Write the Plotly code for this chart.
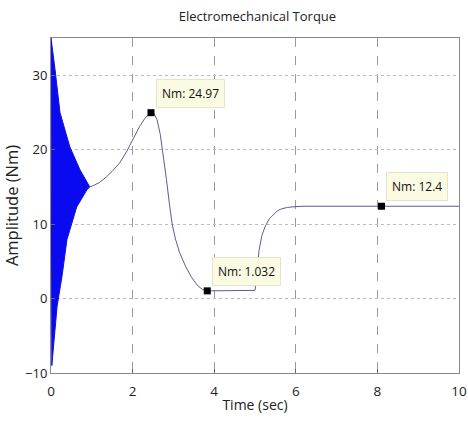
import plotly.graph_objects as go

# Oscillation envelope (start-up transient)
osc_t = [0.0, 0.05, 0.10, 0.22, 0.46, 0.71, 0.95]
osc_upper = [35.0, 33.0, 30.7, 25.0, 20.4, 17.3, 15.0]
osc_lower_t = [0.0, 0.02, 0.10, 0.15, 0.27, 0.39, 0.63, 0.88, 0.95]
osc_lower = [35.0, -9.0, -4.2, -1.0, 3.0, 7.9, 12.3, 14.6, 15.0]

# Smooth torque response after transient
curve_t = [0.95, 1.05, 1.19, 1.35, 1.5, 1.68, 1.85, 2.0, 2.17, 2.3, 2.4, 2.45,
           2.52, 2.6, 2.68, 2.75, 2.83, 2.9, 2.97, 3.05, 3.15, 3.3, 3.45, 3.6, 3.72, 3.83,
           4.5, 5.0, 5.03, 5.06, 5.1, 5.17, 5.25, 5.35, 5.45, 5.55, 5.65, 5.8, 6.0, 6.2,
           8.1, 10.0]
curve_v = [15.0, 15.2, 15.6, 16.3, 17.1, 18.2, 19.7, 21.3, 23.1, 24.2, 24.8, 24.97,
           24.9, 24.0, 22.0, 19.5, 16.0, 12.8, 10.0, 8.0, 6.2, 4.3, 2.8, 1.7, 1.2, 1.032,
           1.03, 1.1, 2.5, 4.5, 6.5, 8.5, 9.7, 10.7, 11.3, 11.8, 12.05, 12.25, 12.35, 12.4,
           12.4, 12.4]

# Data tips
tip_t = [2.45, 3.83, 8.1]
tip_v = [24.97, 1.032, 12.4]
tip_labels = ["Nm: 24.97", "Nm: 1.032", "Nm: 12.4"]

x_ticks = [0, 2, 4, 6, 8, 10]
y_ticks = [-10, 0, 10, 20, 30]

fig = go.Figure()

poly_x = osc_t + osc_lower_t[::-1]
poly_y = osc_upper + osc_lower[::-1]
fig.add_trace(go.Scatter(x=poly_x, y=poly_y, fill="toself", fillcolor="#0a0af0",
                         line=dict(color="#1010e0", width=1), mode="lines",
                         hoverinfo="skip", showlegend=False))
fig.add_trace(go.Scatter(x=curve_t, y=curve_v, mode="lines",
                         line=dict(color="#5c5c96", width=1), showlegend=False))
fig.add_trace(go.Scatter(x=tip_t, y=tip_v, mode="markers",
                         marker=dict(symbol="square", size=7, color="black"),
                         showlegend=False))

for t, v, lab in zip(tip_t, tip_v, tip_labels):
    fig.add_annotation(x=t, y=v, text=lab, showarrow=False, xanchor="left", yanchor="bottom",
                       xshift=5, yshift=5, bgcolor="#fbfbe4", bordercolor="#e4e4c8",
                       borderwidth=1, borderpad=5,
                       font=dict(family="Open Sans", size=12, color="#111"))

fig.update_layout(
    width=468, height=422,
    margin=dict(l=51, r=9, t=38, b=49),
    paper_bgcolor="white", plot_bgcolor="white",
    title=dict(text="Electromechanical Torque", x=0.55, xanchor="center", y=0.962,
               yanchor="middle", font=dict(family="Open Sans", size=13, color="#222")),
    font=dict(family="Open Sans", color="#222"),
)
fig.update_xaxes(range=[0, 10], tickvals=x_ticks, ticks="inside", ticklen=4,
                 tickcolor="#666", showline=True, linecolor="#888", mirror=True,
                 showgrid=True, gridcolor="#9a9a9a", griddash="dash", gridwidth=1,
                 zeroline=False, tickfont=dict(size=13.5), ticklabeloverflow="allow",
                 ticklabelstandoff=6, automargin=False,
                 title=dict(text="Time (sec)", font=dict(size=14), standoff=0))
fig.update_yaxes(range=[-10, 35], tickvals=y_ticks, ticks="inside", ticklen=4,
                 tickcolor="#666", showline=True, linecolor="#888", mirror=True,
                 showgrid=True, gridcolor="#bbbbbb", griddash="dot", gridwidth=1,
                 zeroline=False, tickfont=dict(size=13), ticklabeloverflow="allow",
                 automargin=False,
                 title=dict(text="Amplitude (Nm)", font=dict(size=16.5), standoff=6))

fig.write_html("out.html")
